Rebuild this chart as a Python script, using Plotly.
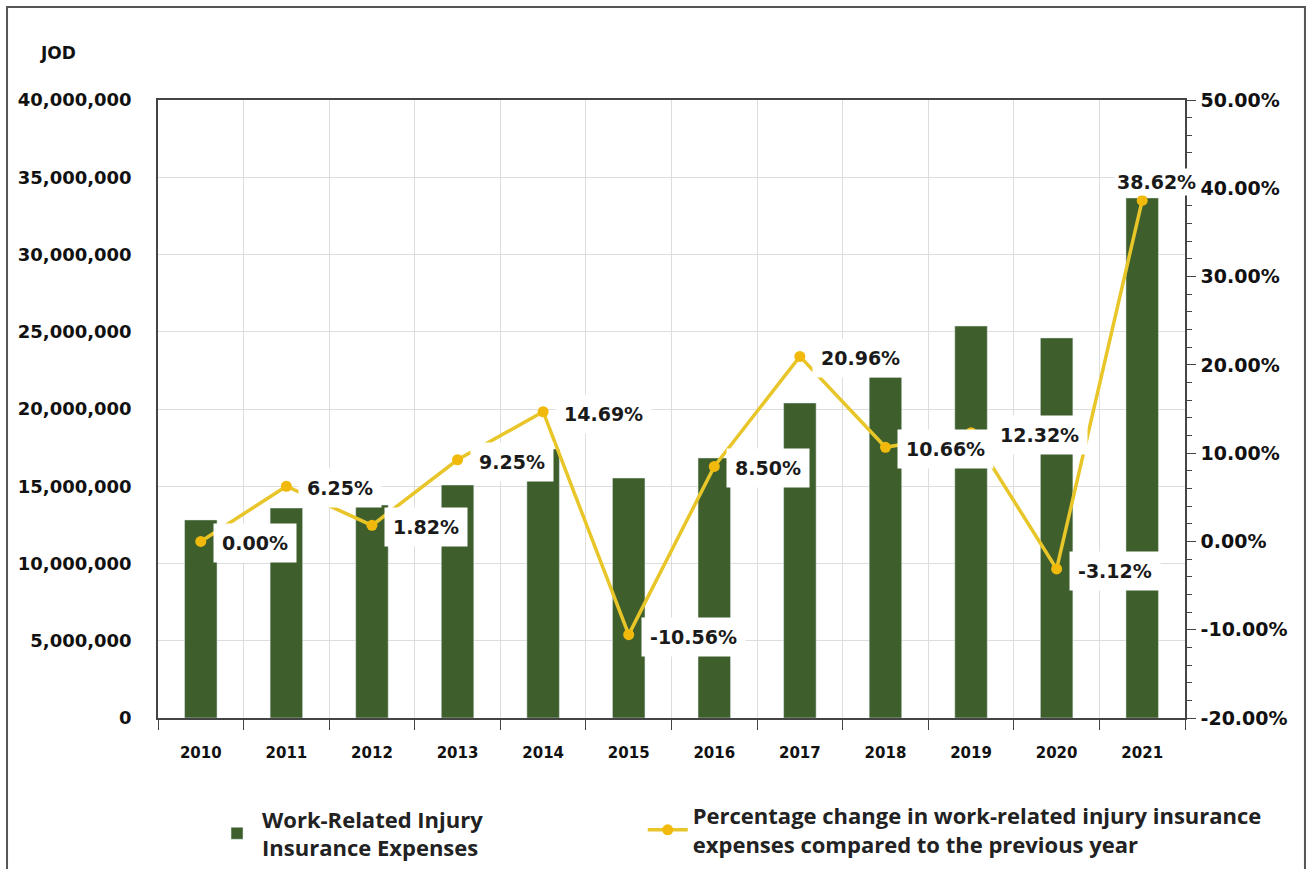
import plotly.graph_objects as go

years = ["2010", "2011", "2012", "2013", "2014", "2015", "2016", "2017", "2018", "2019", "2020", "2021"]
expenses = [12820000, 13590000, 13790000, 15080000, 17410000, 15530000, 16830000,
            20390000, 22070000, 25370000, 24600000, 33660000]
pct_change = [0.00, 6.25, 1.82, 9.25, 14.69, -10.56, 8.50, 20.96, 10.66, 12.32, -3.12, 38.62]
pct_ticks = [-20, -10, 0, 10, 20, 30, 40, 50]
pct_tick_labels = [f"{t:.2f}%" for t in pct_ticks]

bar_name = "Work-Related Injury<br>Insurance Expenses"
line_name = "Percentage change in work-related injury insurance<br>expenses compared to the previous year"

BAR_COLOR = "#3E5F2B"
LINE_COLOR = "#E8C62A"
MARKER_COLOR = "#F0B90B"
LABEL_FONT = "DejaVu Sans"
LEGEND_FONT = "Open Sans"

fig = go.Figure()
fig.add_trace(go.Bar(x=years, y=expenses, name=bar_name, marker_color=BAR_COLOR,
                     width=0.38, yaxis="y", legend="legend"))
fig.add_trace(go.Scatter(x=years, y=pct_change, name=line_name, yaxis="y2",
                         mode="lines+markers", legend="legend2",
                         line=dict(color=LINE_COLOR, width=3.5),
                         marker=dict(color=MARKER_COLOR, size=11)))

annotations = []
for i, v in enumerate(pct_change):
    txt = f"{v:.2f}%"
    if i == len(pct_change) - 1:
        annotations.append(dict(x=i, y=v, xref="x", yref="y2", text=txt,
                                showarrow=False, xanchor="center", yanchor="bottom",
                                xshift=14, yshift=4, bgcolor="white", borderpad=2,
                                font=dict(family=LABEL_FONT, size=19, color="#1a1a1a", weight="bold")))
    else:
        xs = 20 if years[i] == "2019" else 12
        annotations.append(dict(x=i, y=v, xref="x", yref="y2", text=txt,
                                showarrow=False, xanchor="left", yanchor="middle",
                                xshift=xs, yshift=-2, bgcolor="white", borderpad=8,
                                font=dict(family=LABEL_FONT, size=19, color="#1a1a1a", weight="bold")))

annotations.append(dict(x=-0.117, y=1.076, xref="paper", yref="paper", text="JOD",
                        showarrow=False, xanchor="left", yanchor="middle",
                        font=dict(family=LABEL_FONT, size=17, color="#111", weight="bold")))

legend_font = dict(family=LEGEND_FONT, size=22, color="#222", weight="bold")

fig.update_layout(
    width=1312, height=869,
    margin=dict(l=158, r=127, t=100, b=151, autoexpand=False),
    paper_bgcolor="white", plot_bgcolor="white",
    showlegend=True,
    legend=dict(x=0.0526, y=0.0815, yref="container", xanchor="left", yanchor="top",
                font=legend_font, itemwidth=40, valign="middle", bgcolor="rgba(0,0,0,0)"),
    legend2=dict(x=0.472, y=0.0855, yref="container", xanchor="left", yanchor="top",
                 font=legend_font, itemwidth=40, valign="middle", bgcolor="rgba(0,0,0,0)"),
    xaxis=dict(type="category", range=[-0.5, len(years) - 0.5], tickson="boundaries",
               ticks="outside", ticklen=10, tickangle=0,
               tickcolor="#444", showline=True, linecolor="#444", linewidth=1.5,
               mirror=True, showgrid=True, gridcolor="#DDDDDD", gridwidth=1,
               tickfont=dict(family=LABEL_FONT, size=15, color="#111", weight="bold"),
               ticklabelstandoff=20),
    yaxis=dict(range=[0, 40000000], dtick=5000000, tickformat=",d",
               showline=True, linecolor="#444", linewidth=1.5, mirror=True,
               showgrid=True, gridcolor="#DDDDDD", gridwidth=1, zeroline=False,
               ticks="", tickfont=dict(family=LABEL_FONT, size=18, color="#111", weight="bold"),
               ticklabelstandoff=21),
    yaxis2=dict(range=[-20, 50], tickmode="array", tickvals=pct_ticks, ticktext=pct_tick_labels,
                overlaying="y", side="right", showgrid=False, zeroline=False,
                showline=True, linecolor="#444", linewidth=1.5,
                ticks="outside", ticklen=9, tickcolor="#444",
                minor=dict(dtick=2, ticks="outside", ticklen=5, tickcolor="#444"),
                tickfont=dict(family=LABEL_FONT, size=19, color="#111", weight="bold"),
                ticklabelstandoff=1),
    annotations=annotations,
    shapes=[dict(type="rect", xref="paper", yref="paper", x0=-0.147, x1=1.1168,
                 y0=-0.26, y1=1.1505, line=dict(color="#555", width=2),
                 fillcolor="rgba(0,0,0,0)", layer="below")],
)

fig.write_html("out.html")
